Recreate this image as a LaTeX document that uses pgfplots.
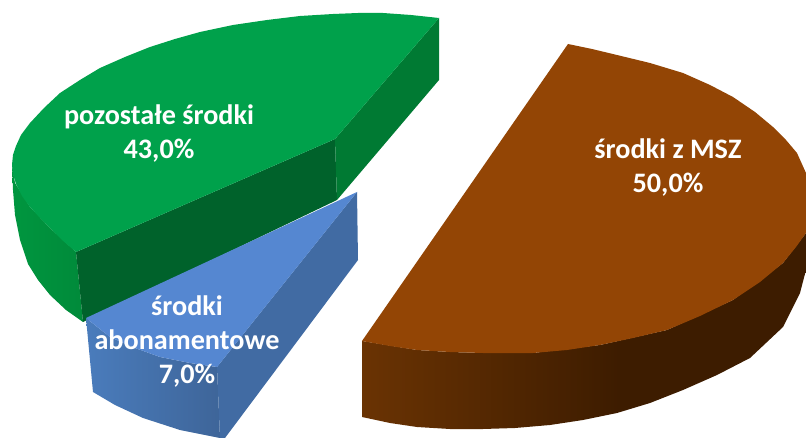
\documentclass[border=0pt]{standalone}
\usepackage{pgfplots}
\pgfplotsset{compat=1.18}
\usepackage{fontspec}
\setmainfont{Carlito}
\definecolor{gt}{HTML}{00A14B}
\definecolor{gm}{HTML}{007A33}
\definecolor{gd}{HTML}{00622B}
\definecolor{bt}{HTML}{5587D1}
\definecolor{bs}{HTML}{416BA3}
\definecolor{rt}{HTML}{934505}
\definecolor{ga}{HTML}{00963F}
\definecolor{gb}{HTML}{008A3A}
\definecolor{ba}{HTML}{4A7CBC}
\definecolor{bb}{HTML}{3E6599}
\definecolor{ra}{HTML}{6A3303}
\definecolor{rb}{HTML}{3D1C00}
\pgfdeclarehorizontalshading{brownside}{100bp}{color(0bp)=(ra); color(25bp)=(ra); color(54bp)=(rb); color(100bp)=(rb)}
\begin{document}
\begin{tikzpicture}
\begin{axis}[
  width=806pt,height=438pt,scale only axis,
  xmin=0,xmax=806,ymin=0,ymax=438,y dir=reverse,
  hide axis,clip=true,
  every axis plot/.append style={draw=none,forget plot}]
\path (axis cs:0,0) rectangle (axis cs:806,438);
% green: outer side
\addplot[left color=ga,right color=gb] coordinates {(12,165)(15,183)(30,207)(50,228)(76,252)(83,322)(66,310)(50,295)(38,280)(28,264)(20,240)(15,215)(13,190)} --cycle;
% green: inner sides
\addplot[fill=gd] coordinates {(76,252)(335,139)(337,200)(83,322)} --cycle;
\addplot[fill=gm] coordinates {(439,18)(439,80)(337,200)(335,139)} --cycle;
% green: top
\addplot[fill=gt] coordinates {(439,18)(411,15)(383,13)(358,13)(333,14)(300,16)(267,20)(233,25)(200,32)(175,39)(150,47)(125,57)(100,68)(80,80)(60,93)(44,108)(30,123)(21,135)(16,146)(13,155)(12,165)(13,174)(16,184)(22,196)(30,207)(40,218)(50,228)(62,240)(76,252)(335,139)} --cycle;
% blue
\addplot[left color=ba,right color=bb] coordinates {(86,318)(110,337)(135,348)(160,357)(190,363)(217,367)(220,438)(180,430)(143,418)(115,405)(93,392)} --cycle;
\addplot[fill=bs] coordinates {(357,192)(358,260)(225,438)(220,438)(217,367)} --cycle;
\addplot[fill=bt] coordinates {(357,192)(86,318)(110,337)(135,348)(160,357)(190,363)(217,367)} --cycle;
% brown
\addplot[shading=brownside,shading angle=0] coordinates {(362,341)(417,350)(450,352)(483,353)(533,353)(600,345)(667,330)(733,300)(783,263)(806,233)(806,270)(800,293)(783,327)(750,358)(717,375)(683,390)(650,403)(617,413)(583,420)(550,425)(515,428)(483,429)(450,429)(417,427)(390,423)(362,417)} --cycle;
\addplot[fill=rt] coordinates {(568,44)(592,49)(617,55)(650,63)(683,73)(710,85)(733,97)(755,112)(773,127)(786,140)(797,153)(806,173)(806,233)(796,247)(783,263)(760,282)(733,300)(700,316)(667,330)(633,338)(600,345)(567,350)(533,353)(483,353)(450,352)(417,350)(390,346)(362,341)} --cycle;
% labels
\node[white,font=\fontsize{28.2}{34}\selectfont\bfseries,align=center] at (axis cs:159,134) {pozostałe środki\\43,0\%};
\node[white,font=\fontsize{28.2}{34}\selectfont\bfseries,align=center] at (axis cs:187,342) {środki\\abonamentowe\\7,0\%};
\node[white,font=\fontsize{28.2}{34}\selectfont\bfseries,align=center] at (axis cs:668,168) {środki z MSZ\\50,0\%};
\end{axis}
\end{tikzpicture}
\end{document}
